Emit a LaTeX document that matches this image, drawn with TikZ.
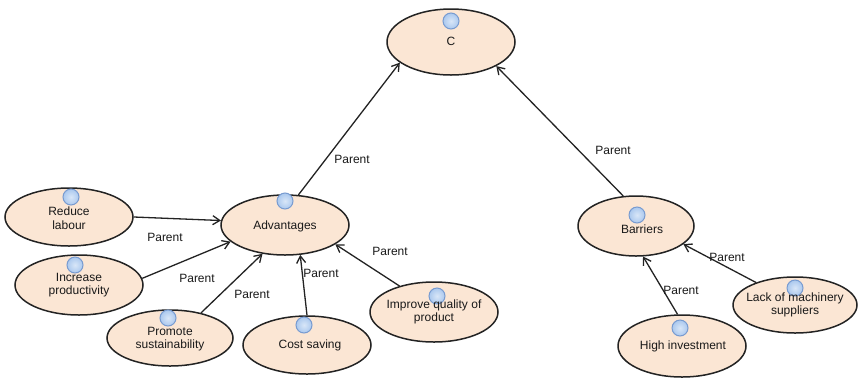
\documentclass[tikz,border=0pt]{standalone}
\usepackage{fontspec}
\setmainfont{Liberation Sans}
\usetikzlibrary{shapes.geometric,arrows.meta}
\definecolor{efill}{RGB}{251,230,212}
\definecolor{edraw}{RGB}{35,35,35}
\definecolor{bfill}{RGB}{170,200,238}
\definecolor{bdraw}{RGB}{120,155,208}
\tikzset{
  bubble/.style={ellipse, draw=edraw, fill=efill, line width=1.5pt, inner sep=0pt},
  txt/.style={align=center, font=\fontsize{12}{13.5}\selectfont, text=black!90, inner sep=0pt},
  dot/.style={circle, draw=bdraw, line width=1pt, inner color=white!55!bfill, outer color=bfill, minimum size=16pt, inner sep=0pt},
  link/.style={draw=edraw, line width=1.3pt, -{Straight Barb[length=7pt,width=9pt,line width=1.3pt]}},
  lab/.style={font=\fontsize{12}{13.5}\selectfont, text=black!90, inner sep=0pt}
}
\begin{document}
\begin{tikzpicture}[x=1pt,y=-1pt]
\useasboundingbox[fill=white] (0,0) rectangle (861,381);
% ellipses
\node[bubble, minimum width=128pt, minimum height=66pt] (c) at (451,42) {};
\node[bubble, minimum width=116pt, minimum height=60pt] (bar) at (636,226) {};
\node[bubble, minimum width=128pt, minimum height=60pt] (adv) at (285,225) {};
\node[bubble, minimum width=128pt, minimum height=58pt] (red) at (69,217) {};
\node[bubble, minimum width=128pt, minimum height=60pt] (inc) at (79,285) {};
\node[bubble, minimum width=126pt, minimum height=56pt] (pro) at (170,338) {};
\node[bubble, minimum width=128pt, minimum height=58pt] (cost) at (307,345) {};
\node[bubble, minimum width=128pt, minimum height=60pt] (imp) at (434,312) {};
\node[bubble, minimum width=128pt, minimum height=62pt] (high) at (682,346) {};
\node[bubble, minimum width=124pt, minimum height=56pt] (lack) at (795,305) {};
% dots
\node[dot] (c-d) at (451,21) {};
\node[dot] (adv-d) at (285,201) {};
\node[dot] (bar-d) at (637,215) {};
\node[dot] (red-d) at (71,197) {};
\node[dot] (inc-d) at (75,265) {};
\node[dot] (pro-d) at (168,318) {};
\node[dot] (cost-d) at (304,325) {};
\node[dot] (imp-d) at (437,296) {};
\node[dot] (high-d) at (680,328) {};
\node[dot] (lack-d) at (795,288) {};
% texts
\node[txt] (c-t) at (451,41) {C};
\node[txt] (adv-t) at (285,226) {Advantages};
\node[txt] (bar-t) at (642,229) {Barriers};
\node[txt] (red-t) at (69,218) {Reduce\\labour};
\node[txt] (inc-t) at (79,285) {Increase\\productivity};
\node[txt] (pro-t) at (170,339) {Promote\\sustainability};
\node[txt] (cost-t) at (310,345) {Cost saving};
\node[txt] (imp-t) at (434,312) {Improve quality of\\product};
\node[txt] (high-t) at (683,346) {High investment};
\node[txt] (lack-t) at (795,305) {Lack of machinery\\suppliers};
% connectors
\draw[link] (adv.66) -- (c.202);
\draw[link] (bar.113) -- (c.332);
\draw[link] (red.east) -- (adv.176);
\draw[link] (inc.6) -- (adv.197);
\draw[link] (pro.39) -- (adv.232);
\draw[link] (cost.north) -- (adv.297);
\draw[link] (imp.143) -- (adv.339);
\draw[link] (high.98) -- (bar.283);
\draw[link] (lack.150) -- (bar.339);
% labels
\node[lab] (l1) at (352,159) {Parent};
\node[lab] (l2) at (613,150) {Parent};
\node[lab] (l3) at (165,237) {Parent};
\node[lab] (l4) at (197,278) {Parent};
\node[lab] (l5) at (252,294) {Parent};
\node[lab] (l6) at (321,273) {Parent};
\node[lab] (l7) at (390,251) {Parent};
\node[lab] (l8) at (681,290) {Parent};
\node[lab] (l9) at (727,257) {Parent};
\end{tikzpicture}
\end{document}
